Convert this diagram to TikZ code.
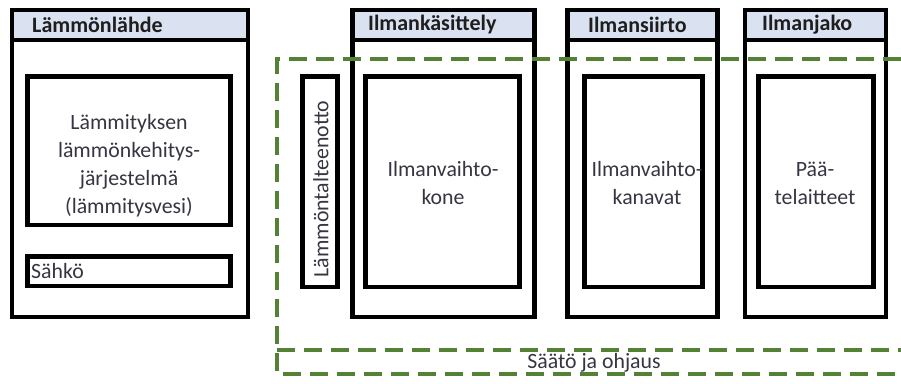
\documentclass[tikz,border=0pt]{standalone}
\usepackage{fontspec}
\setmainfont{Carlito}
\definecolor{headfill}{HTML}{DAE2F1}
\definecolor{ctrlgreen}{HTML}{548235}
\definecolor{txtgray}{HTML}{363642}
\definecolor{headtxt}{HTML}{1E1E1E}
\begin{document}
\begin{tikzpicture}[x=1pt,y=-1pt,
  frame/.style={draw=black, line width=4.8pt, fill=white, inner sep=0pt, outer sep=0pt, anchor=north west},
  headbox/.style={frame, fill=headfill},
  headtext/.style={anchor=west, inner sep=0pt, text=headtxt, font=\fontsize{22}{26}\selectfont\bfseries},
  bodytext/.style={align=center, inner sep=0pt, text=txtgray, font=\fontsize{21.8}{28}\selectfont},
  ctrl/.style={draw=ctrlgreen, line width=4pt, dash pattern=on 18pt off 9pt}]
\useasboundingbox[fill=white] (0,0) rectangle (901,383);
% Lämmönlähde
\node[frame, minimum width=236pt, minimum height=307pt] (src) at (12,10) {};
\node[headbox, minimum width=236pt, minimum height=30pt] (srch) at (12,10) {};
\node[headtext] (srct) at (32,25) {Lämmönlähde};
\node[frame, minimum width=203pt, minimum height=148.5pt] (gen) at (27.5,76.5) {};
\node[bodytext] (gent) at (129,166) {Lämmityksen\\lämmönkehitys-\\järjestelmä\\(lämmitysvesi)};
\node[frame, minimum width=203pt, minimum height=29.5pt] (el) at (27.5,256.5) {};
\node[bodytext, anchor=west] (elt) at (31,271) {Sähkö};
% Lämmöntalteenotto
\node[frame, minimum width=35pt, minimum height=210.5pt] (lto) at (302.5,76.5) {};
\node[bodytext, rotate=90] (ltot) at (321,189) {Lämmöntalteenotto};
% Ilmankäsittely
\node[frame, minimum width=182pt, minimum height=307pt] (ahu) at (352.5,10) {};
\node[headbox, minimum width=182pt, minimum height=30pt] (ahuh) at (352.5,10) {};
\node[headtext] (ahut) at (368,25) {Ilmankäsittely};
\node[frame, minimum width=154pt, minimum height=210.5pt] (ahui) at (365.5,76.5) {};
\node[bodytext] (ahuit) at (443,183) {Ilmanvaihto-\\kone};
% Ilmansiirto
\node[frame, minimum width=150pt, minimum height=307pt] (duct) at (567.5,10) {};
\node[headbox, minimum width=150pt, minimum height=30pt] (ducth) at (567.5,10) {};
\node[headtext] (ductt) at (588,25) {Ilmansiirto};
\node[frame, minimum width=118pt, minimum height=210.5pt] (ducti) at (584.5,76.5) {};
\node[bodytext] (ductit) at (647,183) {Ilmanvaihto-\\kanavat};
% Ilmanjako
\node[frame, minimum width=141pt, minimum height=307pt] (term) at (745,10) {};
\node[headbox, minimum width=141pt, minimum height=30pt] (termh) at (745,10) {};
\node[headtext] (termt) at (762,25) {Ilmanjako};
\node[frame, minimum width=115pt, minimum height=210.5pt] (termi) at (758.5,76.5) {};
\node[bodytext] (termit) at (815,183) {Pää-\\telaitteet};
% Säätö ja ohjaus
\coordinate (c1) at (901,59);
\coordinate (c2) at (277,59);
\coordinate (c3) at (277,374);
\coordinate (c4) at (901,374);
\coordinate (c5) at (277,350);
\coordinate (c6) at (901,350);
\draw[ctrl] (c1) -- (c2) -- (c3) -- (c4);
\draw[ctrl] (c5) -- (c6);
\node[bodytext] (ctrlt) at (594,363) {Säätö ja ohjaus};
\end{tikzpicture}
\end{document}
